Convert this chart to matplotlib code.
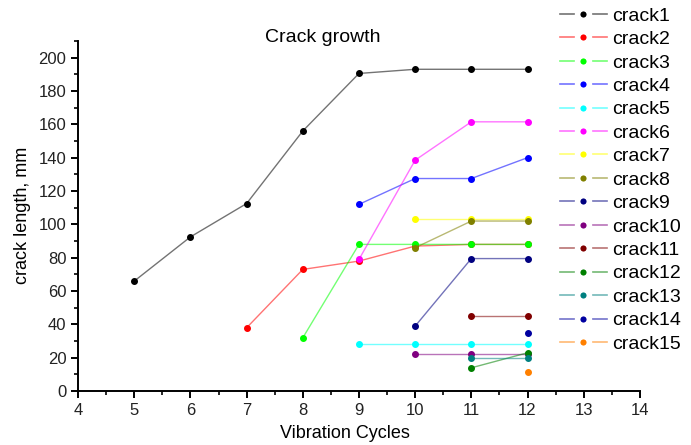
import matplotlib
matplotlib.use("Agg")
import matplotlib.pyplot as plt
from matplotlib.colors import to_rgba
from matplotlib.lines import Line2D
from matplotlib.ticker import MultipleLocator

plt.rcParams["font.family"] = ["Liberation Sans", "DejaVu Sans"]

# crack length (mm) per vibration cycle
crack1_x = [5, 6, 7, 8, 9, 10, 11, 12]
crack1_y = [66, 92.5, 112.5, 156, 190.5, 193, 193, 193]
crack2_x = [7, 8, 9, 10, 11, 12]
crack2_y = [38, 73, 78, 87, 88, 88]
crack3_x = [8, 9, 10, 11, 12]
crack3_y = [32, 88, 88, 88, 88]
crack4_x = [9, 10, 11, 12]
crack4_y = [112, 127.5, 127.5, 140]
crack5_x = [9, 10, 11, 12]
crack5_y = [28, 28, 28, 28]
crack6_x = [9, 10, 11, 12]
crack6_y = [79, 138.5, 161.5, 161.5]
crack7_x = [10, 11, 12]
crack7_y = [103, 103, 103]
crack8_x = [10, 11, 12]
crack8_y = [86, 102, 102]
crack9_x = [10, 11, 12]
crack9_y = [39, 79.5, 79.5]
crack10_x = [10, 11, 12]
crack10_y = [22, 22, 22]
crack11_x = [11, 12]
crack11_y = [45, 45]
crack12_x = [11, 12]
crack12_y = [14, 23]
crack13_x = [11, 12]
crack13_y = [20, 20]
crack14_x = [12]
crack14_y = [35]
crack15_x = [12]
crack15_y = [11.5]

series = [
    ("crack1", crack1_x, crack1_y, "#000000"),
    ("crack2", crack2_x, crack2_y, "#ff0000"),
    ("crack3", crack3_x, crack3_y, "#00ff00"),
    ("crack4", crack4_x, crack4_y, "#0000ff"),
    ("crack5", crack5_x, crack5_y, "#00ffff"),
    ("crack6", crack6_x, crack6_y, "#ff00ff"),
    ("crack7", crack7_x, crack7_y, "#ffff00"),
    ("crack8", crack8_x, crack8_y, "#808000"),
    ("crack9", crack9_x, crack9_y, "#000080"),
    ("crack10", crack10_x, crack10_y, "#800080"),
    ("crack11", crack11_x, crack11_y, "#800000"),
    ("crack12", crack12_x, crack12_y, "#008000"),
    ("crack13", crack13_x, crack13_y, "#008080"),
    ("crack14", crack14_x, crack14_y, "#0000a0"),
    ("crack15", crack15_x, crack15_y, "#ff8000"),
]

fig = plt.figure(figsize=(6.91, 4.45), dpi=100)
ax = fig.add_axes([0.113, 0.121, 0.813, 0.787])

handles = []
for label, xs, ys, color in series:
    line_color = to_rgba(color, 0.55)
    ax.plot(xs, ys, color=line_color, linewidth=1.0, marker="o", markersize=4,
            markerfacecolor=color, markeredgecolor=color, zorder=3)
    handles.append(Line2D([], [], color=line_color, linewidth=1.2, marker="o", markersize=8.5,
                          markerfacecolor=color, markeredgecolor="white", markeredgewidth=4))

ax.set_xlim(4, 14)
ax.set_ylim(0, 210)
ax.xaxis.set_major_locator(MultipleLocator(1))
ax.xaxis.set_minor_locator(MultipleLocator(0.5))
ax.yaxis.set_minor_locator(MultipleLocator(10))
ax.set_yticks(range(0, 201, 20))
ax.spines["top"].set_visible(False)
ax.spines["right"].set_visible(False)
ax.spines["left"].set_linewidth(1.4)
ax.spines["bottom"].set_linewidth(1.4)
ax.tick_params(which="major", direction="out", length=5, width=1.4, labelsize=12,
               labelcolor="#222222")
ax.tick_params(which="minor", direction="out", length=3, width=1.2)

fig.text(323 / 691, 1 - 37 / 445, "Crack growth", fontsize=14, ha="center", va="center")
fig.text(345 / 691, 1 - 433 / 445, "Vibration Cycles", fontsize=13, ha="center", va="center")
fig.text(23 / 691, 1 - 215 / 445, "crack length, mm", fontsize=13, ha="center", va="center",
         rotation=90)

fig.legend(handles, [s[0] for s in series], loc="upper left",
           bbox_to_anchor=(560 / 691, 1 - 7 / 445), frameon=False, fontsize=14,
           handlelength=2.4, handletextpad=0.3, labelspacing=0.3, borderpad=0,
           borderaxespad=0)

fig.savefig("out.png", dpi=100)
